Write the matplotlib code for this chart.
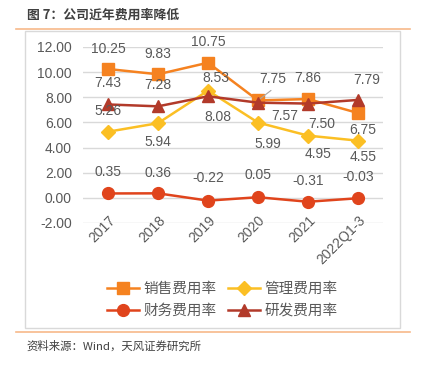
import matplotlib.pyplot as plt
from matplotlib.lines import Line2D
from matplotlib.patches import Rectangle

plt.rcParams['font.family'] = ['Liberation Sans', 'Noto Sans CJK SC', 'DejaVu Sans']

categories = ['2017', '2018', '2019', '2020', '2021', '2022Q1-3']
sales = [10.25, 9.83, 10.75, 7.75, 7.86, 6.75]
admin = [5.26, 5.94, 8.53, 5.99, 4.95, 4.55]
finance = [0.35, 0.36, -0.22, 0.05, -0.31, -0.03]
rnd = [7.43, 7.28, 8.08, 7.57, 7.50, 7.79]
names = ['销售费用率', '管理费用率', '财务费用率', '研发费用率']

# label offsets in pixels (dx, dy)
sales_off = [(0, 20), (0, 20), (0, 21), (15, 21), (0, 21), (5, -17)]
admin_off = [(0, 21), (0, -19), (8, 13), (10, -21), (10, -18), (5, -16)]
fin_off = [(0, 21), (0, 20), (0, 23), (0, 22), (0, 21), (0, 21)]
rnd_off = [(0, 21), (0, 21), (10, -21), (27, -13), (14, -20), (9, 20)]

W, H = 425, 366
fig = plt.figure(figsize=(W / 100, H / 100), dpi=100)
cjk = ['Noto Sans CJK SC', 'DejaVu Sans']

# frame and decorative lines
fig.patches.append(Rectangle((25 / W, 1 - 328 / H), 375 / W, 297 / H, transform=fig.transFigure,
                             fill=False, edgecolor='#d9d9d9', lw=1))
fig.add_artist(Line2D([16 / W, 410 / W], [1 - 29 / H] * 2, color='#f7b98a', lw=1.2))
fig.add_artist(Line2D([16 / W, 410 / W], [1 - 332 / H] * 2, color='#f7b98a', lw=1.2))
fig.text(27 / W, 1 - 15 / H, '图 7：公司近年费用率降低', fontsize=9.3, fontweight='bold',
         color='#404040', va='center', ha='left', family=cjk)
fig.text(26 / W, 1 - 346 / H, '资料来源：Wind，天风证券研究所', fontsize=8.2,
         color='#404040', va='center', ha='left', family=cjk)

ax = fig.add_axes([83 / W, 1 - 223 / H, 300 / W, 176 / H])
x = list(range(len(categories)))
ax.set_xlim(-0.5, 5.5)
ax.set_ylim(-2, 12)
ax.set_yticks(range(-2, 13, 2))
ax.set_yticklabels([f'{v:.2f}' for v in range(-2, 13, 2)])
ax.set_xticks(x)
ax.set_xticklabels(categories, rotation=45, ha='right', va='top', rotation_mode='anchor')
ax.tick_params(axis='both', length=0, labelsize=10, labelcolor='#595959')
ax.tick_params(axis='y', pad=8)
ax.tick_params(axis='x', pad=-7)
for s in ax.spines.values():
    s.set_visible(False)
ax.grid(axis='y', color='#d9d9d9', lw=1)
ax.set_axisbelow(True)

series = [
    (sales, '#f58220', 's', 8.5, sales_off),
    (admin, '#fbbf24', 'D', 7, admin_off),
    (finance, '#e0441c', 'o', 8.5, fin_off),
    (rnd, '#b23a2a', '^', 8.5, rnd_off),
]
handles = []
for (vals, col, mk, ms, offs), name in zip(series, names):
    h, = ax.plot(x, vals, color=col, marker=mk, markersize=ms, lw=1.8, label=name)
    handles.append(h)
    for xi, v, (dx, dy) in zip(x, vals, offs):
        ax.annotate(f'{v:.2f}', (xi, v), xytext=(dx, dy), textcoords='offset pixels',
                    ha='center', va='center', fontsize=10, color='#595959')

# leader line for the 2020 sales label
ax.annotate('', (3, sales[3]), xytext=(13, 10), textcoords='offset pixels',
            arrowprops=dict(arrowstyle='-', color='#a6a6a6', lw=0.8, shrinkA=0, shrinkB=2))

# legend filled column-wise: order so rows read 销售/管理, 财务/研发
order = [0, 2, 1, 3]
fig.legend(handles=[handles[i] for i in order], loc='center', bbox_to_anchor=(222 / W, 1 - 300 / H),
           ncol=2, frameon=False, handlelength=2.2, columnspacing=0.8,
           handletextpad=0.3, labelspacing=0.55,
           prop={'family': cjk, 'size': 10.5}, labelcolor='#595959')

fig.savefig('out.png', dpi=100)
